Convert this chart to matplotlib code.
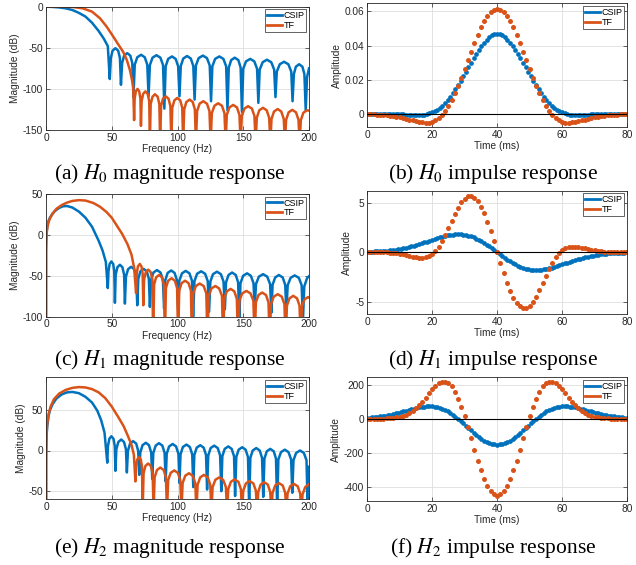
import numpy as np
import matplotlib
matplotlib.use("Agg")
import matplotlib.pyplot as plt
from matplotlib.lines import Line2D

plt.rcParams['font.family'] = ['Liberation Sans', 'DejaVu Sans']
plt.rcParams['mathtext.fontset'] = 'stix'
plt.rcParams['axes.unicode_minus'] = False

BLUE = '#0072BD'
ORANGE = '#D95319'
AXC = '#262626'

# ---------------- magnitude responses (Hz, dB) ----------------
f_h0_csip = [0, 5, 10, 15, 20, 25, 30, 35, 40, 44, 47,
             48.5, 49.3, 50.6, 52.8, 54.9, 56.2,
             57, 57.9, 59.4, 61.8, 64.1, 65.6,
             66.5, 67.5, 69.4, 72.3, 75.1, 77,
             78, 79, 81, 84, 87, 89,
             90, 91, 92.9, 95.8, 98.6, 100.5,
             101.5, 102.5, 104.4, 107.3, 110.1, 112,
             113, 114, 116.1, 119.3, 122.4, 124.5,
             125.5, 126.5, 128.6, 131.8, 134.9, 137,
             138, 139, 140.8, 143.5, 146.3, 148,
             149, 150, 152.1, 155.3, 158.4, 160.5,
             161.5, 162.5, 164.8, 168, 171.3, 173.5,
             174.5, 175.5, 177.8, 181, 184.3, 186.5,
             187.5, 188.5, 190, 192.5, 195, 196.5,
             197.5, 198.5, 200]
db_h0_csip = [0, -0.3, -0.9, -2, -4, -7.5, -12, -19.5, -29.5, -39, -48,
              -88, -62.5, -53.5, -50.5, -53.5, -62.5,
              -95, -68.5, -59.5, -56.5, -59.5, -68.5,
              -110, -70.5, -61.5, -58.5, -61.5, -70.5,
              -109, -71, -62, -59, -62, -71,
              -124, -72.5, -63.5, -60.5, -63.5, -72.5,
              -109, -72, -63, -60, -63, -72,
              -113, -71.5, -62.5, -59.5, -62.5, -71.5,
              -115, -72.5, -63.5, -60.5, -63.5, -72.5,
              -126, -74, -65, -62, -65, -74,
              -128, -75.5, -66.5, -63.5, -66.5, -75.5,
              -117, -76.5, -67.5, -64.5, -67.5, -76.5,
              -110, -79, -70, -67, -70, -79,
              -115, -82, -73, -70, -73, -82,
              -126, -86, -75]

f_h0_tf = [0, 10, 20, 28, 35, 41, 46, 51, 55, 58.7, 61.5, 63.8, 65.5, 66.3,
           67, 67.4, 68.3, 69.6, 70.9, 71.8,
           72.2, 72.7, 73.9, 75.6, 77.3, 78.5,
           79, 79.6, 81, 82.9, 84.9, 86.2,
           86.8, 87.5, 88.9, 91.1, 93.2, 94.6,
           95.3, 96, 97.6, 99.8, 102.1, 103.6,
           104.3, 105.1, 106.7, 109.2, 111.6, 113.2,
           114, 114.9, 116.8, 119.6, 122.4, 124.3,
           125.2, 126.1, 128.1, 130.9, 133.8, 135.7,
           136.6, 137.5, 139.5, 142.3, 145.2, 147.1,
           148, 148.9, 150.9, 153.7, 156.6, 158.5,
           159.4, 160.3, 162.2, 165, 167.8, 169.7,
           170.6, 171.5, 173.4, 176.2, 178.9, 180.8,
           181.7, 182.6, 184.5, 187.3, 190.1, 192,
           192.9, 193.8, 195.7, 198.5, 200]
db_h0_tf = [0, 0, -0.3, -2, -6, -14, -24, -36, -46, -55, -65, -77, -90, -97,
            -138, -112, -103, -100, -103, -112,
            -145, -115, -106, -103, -106, -115,
            -165, -118.5, -109.5, -106.5, -109.5, -118.5,
            -165, -121, -112, -109, -112, -121,
            -165, -123, -114, -111, -114, -123,
            -165, -125, -116, -113, -116, -125,
            -165, -127, -118, -115, -118, -127,
            -165, -129.5, -120.5, -117.5, -120.5, -129.5,
            -165, -131.5, -122.5, -119.5, -122.5, -131.5,
            -165, -133, -124, -121, -124, -133,
            -165, -135, -126, -123, -126, -135,
            -165, -136.5, -127.5, -124.5, -127.5, -136.5,
            -165, -137.5, -128.5, -125.5, -128.5, -137.5,
            -165, -138, -129, -126, -126.5]

f_h1_csip = [0, 0.05, 0.2, 0.5, 1, 2, 3, 5, 7, 10, 13, 16, 20, 25, 30, 35, 40, 43, 45.5,
             47, 47.5, 48.4, 49.7, 51.1, 51.9,
             52.4, 53, 54.3, 56.2, 58.1, 59.4,
             60, 60.8, 62.4, 64.7, 67.1, 68.6,
             69.4, 70.2, 71.8, 74.2, 76.6, 78.2,
             79, 79.9, 81.7, 84.4, 87.1, 88.9,
             89.8, 90.7, 92.5, 95.2, 97.8, 99.6,
             100.5, 101.4, 103.4, 106.2, 109.1, 111,
             111.9, 112.9, 114.9, 118, 121, 123,
             124, 125, 127, 130, 133, 135,
             136, 136.9, 138.8, 141.5, 144.3, 146.1,
             147, 147.9, 149.9, 152.9, 155.8, 157.8,
             158.7, 159.7, 161.9, 165.1, 168.2, 170.4,
             171.4, 172.3, 174.3, 177.1, 180, 181.9,
             182.8, 183.8, 186, 189.1, 192.3, 194.4,
             195.4, 196.4, 198.5, 200]
db_h1_csip = [-300, -20, -8, 4, 11, 17.5, 21, 26, 29.5, 33, 35, 35.3, 33.5, 28.5, 21, 10, -7, -19, -33,
              -65, -44.5, -35.5, -32.5, -35.5, -44.5,
              -83, -48.5, -39.5, -36.5, -39.5, -48.5,
              -84, -51, -42, -39, -42, -51,
              -86, -53.5, -44.5, -41.5, -44.5, -53.5,
              -88, -55, -46, -43, -46, -55,
              -90, -55.5, -46.5, -43.5, -46.5, -55.5,
              -92, -56, -47, -44, -47, -56,
              -100, -56.5, -47.5, -44.5, -47.5, -56.5,
              -94, -57, -48, -45, -48, -57,
              -91, -58, -49, -46, -49, -58,
              -105, -59, -50, -47, -50, -59,
              -90, -60, -51, -48, -51, -60,
              -95, -61, -52, -49, -52, -61,
              -93, -61.5, -52.5, -49.5, -52.5, -61.5,
              -105, -63, -53, -50.5]

f_h1_tf = [0, 0.05, 0.2, 0.5, 1, 2, 3, 5, 8, 12, 16, 20, 25, 30, 36, 41, 46, 50, 54, 58, 62, 65, 67,
           68.5, 69, 69.9, 71.3, 72.6, 73.5,
           74, 74.6, 75.9, 77.8, 79.6, 80.9,
           81.5, 82.2, 83.7, 86, 88.2, 89.7,
           90.4, 91.2, 92.9, 95.5, 98, 99.7,
           100.5, 101.3, 103.1, 105.8, 108.4, 110.2,
           111, 111.9, 114, 116.9, 119.9, 121.9,
           122.8, 123.7, 125.8, 128.8, 131.7, 133.8,
           134.7, 135.6, 137.5, 140.4, 143.2, 145.1,
           146, 147, 149.2, 152.4, 155.5, 157.7,
           158.7, 159.6, 161.6, 164.4, 167.3, 169.2,
           170.1, 171.1, 173.2, 176.2, 179.3, 181.3,
           182.3, 183.2, 185.2, 188, 190.9, 192.8,
           193.7, 194.6, 196.5, 199.3, 200]
db_h1_tf = [-300, -18, -6, 2, 9, 16, 20, 26, 32, 36.5, 39.5, 41.5, 42.5, 42, 39, 34.5, 28, 21, 11, 1, -11.5, -24, -40,
            -71, -47.5, -38.5, -35.5, -38.5, -47.5,
            -86, -54.5, -45.5, -42.5, -45.5, -54.5,
            -130, -61, -52, -49, -52, -61,
            -130, -65, -56, -53, -56, -65,
            -130, -68, -59, -56, -59, -68,
            -130, -71.5, -62.5, -59.5, -62.5, -71.5,
            -130, -74.5, -65.5, -62.5, -65.5, -74.5,
            -130, -78, -69, -66, -69, -78,
            -130, -80.5, -71.5, -68.5, -71.5, -80.5,
            -130, -82.5, -73.5, -70.5, -73.5, -82.5,
            -130, -84.5, -75.5, -72.5, -75.5, -84.5,
            -130, -86.5, -77.5, -74.5, -77.5, -86.5,
            -130, -88, -79, -76, -76.5]

f_h2_csip = [0, 0.1, 0.3, 0.6, 1, 2, 3, 5, 8, 12, 16, 20, 25, 30, 35, 39, 42, 44.5,
             46.6, 47.1, 48.2, 49.7, 51.3, 52.3,
             52.8, 53.5, 55, 57.2, 59.3, 60.8,
             61.5, 62.3, 63.9, 66.2, 68.6, 70.1,
             70.9, 71.7, 73.4, 75.9, 78.3, 80,
             80.8, 81.6, 83.4, 85.9, 88.5, 90.2,
             91, 91.8, 93.6, 96.3, 98.9, 100.7,
             101.5, 102.3, 104.1, 106.8, 109.4, 111.2,
             112, 112.8, 114.6, 117.3, 119.9, 121.7,
             122.5, 123.4, 125.2, 127.9, 130.6, 132.4,
             133.3, 134.1, 135.9, 138.6, 141.2, 143,
             143.8, 144.7, 146.5, 149.2, 151.8, 153.6,
             154.5, 155.4, 157.2, 159.9, 162.5, 164.3,
             165.2, 166.1, 167.9, 170.5, 173.2, 174.9,
             175.8, 176.7, 178.7, 181.6, 184.4, 186.4,
             187.3, 188.2, 190.2, 193.2, 196.1, 198.1,
             199, 200]
db_h2_csip = [-300, -10, 10, 22, 31, 43, 49.5, 57, 64, 69, 71.5, 72, 70.5, 66, 59, 49, 37, 22,
              -15, 5.5, 14.5, 17.5, 14.5, 5.5,
              -25, 1.5, 10.5, 13.5, 10.5, 1.5,
              -27, -0.5, 8.5, 11.5, 8.5, -0.5,
              -30, -2.5, 6.5, 9.5, 6.5, -2.5,
              -35, -3, 6, 9, 6, -3,
              -38, -4, 5, 8, 5, -4,
              -40, -4.7, 4.3, 7.3, 4.3, -4.7,
              -45, -5.5, 3.5, 6.5, 3.5, -5.5,
              -48, -6, 3, 6, 3, -6,
              -50, -7, 2, 5, 2, -7,
              -56, -8, 1, 4, 1, -8,
              -70, -9, 0, 3, 0, -9,
              -57, -10, -1, 2, -1, -10,
              -70, -11, -2, 1, -2, -11,
              -52, -12, -3, 0, -3, -12,
              -70, -20]

f_h2_tf = [0, 0.1, 0.3, 0.6, 1, 2, 3.5, 6, 10, 15, 20, 25, 30, 35, 40, 45, 50, 55, 59, 62, 65, 66.8,
           68, 68.5, 69.4, 70.8, 72.1, 73,
           73.5, 74.2, 75.6, 77.7, 79.7, 81.1,
           81.8, 82.6, 84.4, 86.9, 89.5, 91.2,
           92, 92.9, 94.8, 97.5, 100.3, 102.1,
           103, 103.9, 105.9, 108.7, 111.6, 113.5,
           114.4, 115.3, 117.3, 120.1, 123, 124.9,
           125.8, 126.7, 128.8, 131.8, 134.7, 136.8,
           137.7, 138.6, 140.6, 143.4, 146.3, 148.2,
           149.1, 150, 152, 154.8, 157.7, 159.6,
           160.5, 161.4, 163.2, 166, 168.7, 170.5,
           171.4, 172.3, 174.3, 177.1, 180, 181.9,
           182.8, 183.7, 185.7, 188.5, 191.4, 193.3,
           194.2, 195.1, 197.1, 200]
db_h2_tf = [-300, -5, 14, 26, 34, 45, 54, 63, 70, 74.5, 77, 78, 77.5, 75.5, 71.5, 64.5, 54, 41, 30, 19, 7, -5,
            -38, -20, -11, -8, -11, -20,
            -75, -28, -19, -16, -19, -28,
            -75, -33, -24, -21, -24, -33,
            -75, -36.5, -27.5, -24.5, -27.5, -36.5,
            -75, -40, -31, -28, -31, -40,
            -75, -42, -33, -30, -33, -42,
            -75, -45, -36, -33, -36, -45,
            -75, -47.5, -38.5, -35.5, -38.5, -47.5,
            -75, -49.5, -40.5, -37.5, -40.5, -49.5,
            -75, -51, -42, -39, -42, -51,
            -75, -52, -43, -40, -43, -52,
            -75, -53, -44, -41, -44, -53,
            -75, -54, -45, -41.5]

# ---------------- impulse responses ----------------
# CSIP sampled every 0.8 ms, TF every 1 ms
csip_h0 = [0.0003, 0.0003, 0.0003, 0.0004, 0.0004, 0.0004, 0.0004, 0.0004, 0.0004, 0.0003,
           0.0003, 0.0002, 0.0001, 0.0000, -0.0001, -0.0002, -0.0003, -0.0004, -0.0005, -0.0005,
           -0.0005, -0.0004, -0.0002, 0.0001, 0.0005, 0.0011, 0.0018, 0.0027, 0.0038, 0.0051,
           0.0066, 0.0083, 0.0102, 0.0123, 0.0146, 0.0170, 0.0195, 0.0221, 0.0247, 0.0274,
           0.0300, 0.0326, 0.0351, 0.0375, 0.0397, 0.0417, 0.0434, 0.0449, 0.0460, 0.0467,
           0.0470,
           0.0467, 0.0460, 0.0449, 0.0434, 0.0417, 0.0397, 0.0375, 0.0351, 0.0326, 0.0300,
           0.0274, 0.0247, 0.0221, 0.0195, 0.0170, 0.0146, 0.0123, 0.0102, 0.0083, 0.0066,
           0.0051, 0.0038, 0.0027, 0.0018, 0.0011, 0.0005, 0.0001, -0.0002, -0.0004, -0.0005,
           -0.0005, -0.0005, -0.0004, -0.0003, -0.0002, -0.0001, 0.0000, 0.0001, 0.0002, 0.0003,
           0.0003, 0.0004, 0.0004, 0.0004, 0.0004, 0.0004, 0.0004, 0.0003, 0.0003, 0.0003]
tf_h0 = [0.0000, -0.0001, -0.0001, -0.0002, -0.0003, -0.0004, -0.0006, -0.0008, -0.0011, -0.0014,
         -0.0018, -0.0022, -0.0027, -0.0032, -0.0036, -0.0040, -0.0044, -0.0047, -0.0049, -0.0048,
         -0.0044, -0.0036, -0.0023, -0.0005, 0.0018, 0.0047, 0.0082, 0.0122, 0.0166, 0.0214,
         0.0264, 0.0315, 0.0366, 0.0416, 0.0463, 0.0506, 0.0543, 0.0573, 0.0596, 0.0610,
         0.0615,
         0.0610, 0.0596, 0.0573, 0.0543, 0.0506, 0.0463, 0.0416, 0.0366, 0.0315, 0.0264,
         0.0214, 0.0166, 0.0122, 0.0082, 0.0047, 0.0018, -0.0005, -0.0023, -0.0036, -0.0044,
         -0.0048, -0.0049, -0.0047, -0.0044, -0.0040, -0.0036, -0.0032, -0.0027, -0.0022, -0.0018,
         -0.0014, -0.0011, -0.0008, -0.0006, -0.0004, -0.0003, -0.0002, -0.0001, -0.0001, 0.0000]

csip_h1 = [0.04, 0.05, 0.06, 0.07, 0.08, 0.10, 0.12, 0.14, 0.16, 0.19,
           0.23, 0.26, 0.30, 0.35, 0.40, 0.45, 0.52, 0.58, 0.65, 0.72,
           0.80, 0.89, 0.97, 1.06, 1.15, 1.23, 1.32, 1.40, 1.48, 1.56,
           1.63, 1.69, 1.73, 1.77, 1.79, 1.80, 1.79, 1.77, 1.72, 1.66,
           1.58, 1.49, 1.37, 1.24, 1.10, 0.94, 0.76, 0.58, 0.39, 0.20,
           0.00,
           -0.20, -0.39, -0.58, -0.76, -0.94, -1.10, -1.24, -1.37, -1.49, -1.58,
           -1.66, -1.72, -1.77, -1.79, -1.80, -1.79, -1.77, -1.73, -1.69, -1.63,
           -1.56, -1.48, -1.40, -1.32, -1.23, -1.15, -1.06, -0.97, -0.89, -0.80,
           -0.72, -0.65, -0.58, -0.52, -0.45, -0.40, -0.35, -0.30, -0.26, -0.23,
           -0.19, -0.16, -0.14, -0.12, -0.10, -0.08, -0.07, -0.06, -0.05, -0.04]
tf_h1 = [0.00, 0.00, 0.00, 0.00, -0.01, -0.02, -0.04, -0.06, -0.09, -0.13,
         -0.18, -0.24, -0.31, -0.38, -0.45, -0.51, -0.55, -0.56, -0.53, -0.43,
         -0.24, 0.08, 0.52, 1.08, 1.73, 2.44, 3.17, 3.87, 4.50, 5.02,
         5.40, 5.62, 5.65, 5.48, 5.13, 4.60, 3.90, 3.07, 2.12, 1.08,
         0.00,
         -1.08, -2.12, -3.07, -3.90, -4.60, -5.13, -5.48, -5.65, -5.62, -5.40,
         -5.02, -4.50, -3.87, -3.17, -2.44, -1.73, -1.08, -0.52, -0.08, 0.24,
         0.43, 0.53, 0.56, 0.55, 0.51, 0.45, 0.38, 0.31, 0.24, 0.18,
         0.13, 0.09, 0.06, 0.04, 0.02, 0.01, 0.00, 0.00, 0.00, 0.00]

csip_h2 = [7, 8, 9, 11, 13, 15, 17, 20, 23, 26,
           29, 33, 37, 41, 45, 49, 53, 57, 61, 65,
           68, 71, 73, 74.5, 75, 74.5, 73, 70, 66, 60,
           54, 45, 36, 25, 13, 0, -12.5, -25.6, -39.2, -53.0,
           -66.7, -80.2, -93.1, -105.2, -116.3, -126.1, -134.5, -141.1, -146.0, -149.0,
           -150.0,
           -149.0, -146.0, -141.1, -134.5, -126.1, -116.3, -105.2, -93.1, -80.2, -66.7,
           -53.0, -39.2, -25.6, -12.5, 0, 13, 25, 36, 45, 54,
           60, 66, 70, 73, 74.5, 75, 74.5, 73, 71, 68,
           65, 61, 57, 53, 49, 45, 41, 37, 33, 29,
           26, 23, 20, 17, 15, 13, 11, 9, 8, 7]
tf_h2 = [0, 0, 0, 1, 1, 2, 3, 5, 7, 10,
         14, 19, 26, 35, 47, 62, 80, 101, 124, 150,
         174, 194, 210, 218, 219, 210, 192, 160, 118, 70,
         15, -48, -114, -180, -243, -300, -349, -390, -421, -441,
         -448,
         -441, -421, -390, -349, -300, -243, -180, -114, -48, 15,
         70, 118, 160, 192, 210, 219, 218, 210, 194, 174,
         150, 124, 101, 80, 62, 47, 35, 26, 19, 14,
         10, 7, 5, 3, 2, 1, 1, 0, 0, 0]

t_csip = np.arange(len(csip_h0)) * 0.8
t_tf = np.arange(len(tf_h0)) * 1.0

fig = plt.figure(figsize=(6.36, 5.65), dpi=100)
W, H = 636.0, 565.0


def add_ax(x0, x1, top, bottom):
    return fig.add_axes([x0 / W, 1 - bottom / H, (x1 - x0) / W, (bottom - top) / H])


def style(ax, xlim, xticks, ylim, yticks, xlabel, ylabel, yticklabels=None):
    ax.set_xlim(xlim)
    ax.set_ylim(ylim)
    ax.set_xticks(xticks)
    ax.set_yticks(yticks)
    if yticklabels is not None:
        ax.set_yticklabels(yticklabels)
    ax.grid(True, color='#dedede', lw=0.6)
    ax.set_axisbelow(True)
    ax.tick_params(direction='in', length=3, width=0.5, colors=AXC, labelsize=7.3,
                   top=True, right=True, pad=2)
    for s in ax.spines.values():
        s.set_color(AXC)
        s.set_linewidth(0.6)
    ax.set_xlabel(xlabel, fontsize=7.3, color=AXC, labelpad=1)
    ax.set_ylabel(ylabel, fontsize=7.3, color=AXC, labelpad=2)
    handles = [Line2D([], [], color=BLUE, lw=2), Line2D([], [], color=ORANGE, lw=2)]
    leg = ax.legend(handles, ['CSIP', 'TF'], loc='upper right', fontsize=6.5,
                    frameon=True, fancybox=False, edgecolor=AXC, framealpha=1,
                    borderpad=0.2, labelspacing=0.1, handlelength=1.6,
                    handletextpad=0.2, borderaxespad=0.3)
    leg.get_frame().set_linewidth(0.5)


def mag_plot(ax, f1, d1, f2, d2, ylim, yticks):
    ax.plot(f1, d1, color=BLUE, lw=1.8)
    ax.plot(f2, d2, color=ORANGE, lw=1.8)
    style(ax, (0, 200), [0, 50, 100, 150, 200], ylim, yticks,
          'Frequency (Hz)', 'Magnitude (dB)')


def imp_plot(ax, v1, v2, ylim, yticks, yticklabels=None):
    ax.plot(t_csip, v1, 'o', color=BLUE, ms=3.4, mec='none')
    ax.plot(t_tf, v2, 'o', color=ORANGE, ms=3.6, mec='none')
    ax.axhline(0, color='k', lw=0.8, zorder=3)
    style(ax, (0, 80), [0, 20, 40, 60, 80], ylim, yticks,
          'Time (ms)', 'Amplitude', yticklabels)


RX0, RX1 = 367, 627

ax = add_ax(46, 309, 6.7, 130)
mag_plot(ax, f_h0_csip, db_h0_csip, f_h0_tf, db_h0_tf, (-150, 0), [-150, -100, -50, 0])
ax = add_ax(RX0, RX1, 3.3, 127)
imp_plot(ax, csip_h0, tf_h0, (-0.0074, 0.0647), [0, 0.02, 0.04, 0.06],
         ['0', '0.02', '0.04', '0.06'])

ax = add_ax(46, 309, 194, 316.7)
mag_plot(ax, f_h1_csip, db_h1_csip, f_h1_tf, db_h1_tf, (-100, 50), [-100, -50, 0, 50])
ax = add_ax(RX0, RX1, 190.7, 314)
imp_plot(ax, csip_h1, tf_h1, (-6.25, 6.2), [-5, 0, 5])

ax = add_ax(46, 309, 377.3, 499.3)
mag_plot(ax, f_h2_csip, db_h2_csip, f_h2_tf, db_h2_tf, (-60, 90), [-50, 0, 50])
ax = add_ax(RX0, RX1, 377.3, 501)
imp_plot(ax, csip_h2, tf_h2, (-480, 244), [-400, -200, 0, 200])

captions = [('(a) $H_0$ magnitude response', '(b) $H_0$ impulse response', 174),
            ('(c) $H_1$ magnitude response', '(d) $H_1$ impulse response', 360),
            ('(e) $H_2$ magnitude response', '(f) $H_2$ impulse response', 548)]
for left, right, y in captions:
    fig.text(170 / W, 1 - y / H, left, ha='center', va='center', fontsize=15.5,
             family='Liberation Serif')
    fig.text(493 / W, 1 - y / H, right, ha='center', va='center', fontsize=15.5,
             family='Liberation Serif')

fig.savefig('out.png', dpi=100)
